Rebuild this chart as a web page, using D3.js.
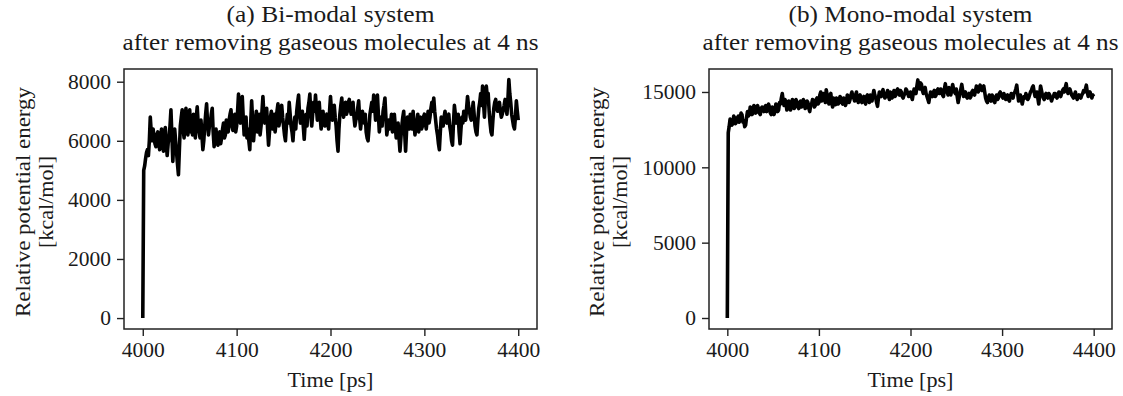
<!DOCTYPE html>
<html><head><meta charset="utf-8">
<script src="https://cdn.jsdelivr.net/npm/d3@7"></script>
<style>
html,body{margin:0;padding:0;background:#fff;}
svg text{font-family:"Liberation Serif","Times New Roman",serif !important;fill:#1a1a1a;}
</style></head>
<body><svg id="c" width="1123" height="396"></svg>
<script>
// time grid (ps), one sample per ps
const times = d3.range(4000, 4401, 1);

// (a) Bi-modal system, relative potential energy [kcal/mol]
const energyBimodal = [
0,5000,5150,5400,5600,5700,5500,6000,6800,6300,6000,6400,6150,5900,5800,6200,6300,5900,5700,6100,
6400,6000,5650,6200,6450,5900,5500,5900,6100,6500,7050,6200,5300,5900,6400,6000,5600,5200,4850,5700,
6500,6800,7050,6400,6100,6700,7100,6500,6200,6600,7050,6300,6600,6200,6900,6500,6100,6800,7150,6600,
6300,6100,6700,6200,5700,6000,6500,6900,7250,6600,6200,6500,6600,6900,7100,6300,5800,6200,6400,6000,
5850,6200,6300,5900,6100,6400,6600,6100,6200,6700,6500,6300,6700,6900,7050,6500,6350,6700,6900,6300,
6500,7000,7580,6900,6600,7200,7500,6800,6200,6500,6800,6100,6400,6000,5700,6600,7350,6700,6000,6400,
6700,7000,6300,6600,6900,6200,6500,7000,7500,6900,6600,6800,7100,6400,5850,6300,6800,7000,6400,6700,
6900,6300,6600,7000,7250,6500,6700,7100,7200,6800,6500,6200,6000,6500,6900,6600,7300,6900,6500,6300,
6000,6500,6800,6400,7000,7300,7550,6900,6600,6900,7000,6500,6050,6600,6900,6500,7100,7300,7580,6900,
6500,6900,7300,7000,7550,7100,6700,7000,7300,6800,6400,6700,7000,6600,6500,6800,6900,6600,6400,7000,
7500,7000,6700,6900,7200,6800,6500,6000,5650,6400,6900,7200,7450,7000,6800,7100,7300,6900,7000,7300,
7400,7100,6900,7100,7300,6800,6500,6700,6800,7100,7350,6800,6400,6700,7000,6700,6600,6900,6300,6100,
6000,6400,6900,7100,7300,7000,7550,7200,6700,7100,7550,6900,6300,6600,6800,6500,7000,7200,7450,6800,
6200,6500,6700,6400,6600,6900,6300,6600,6900,6500,6100,6400,6600,6100,5650,6100,6500,6800,7000,6300,
5650,6300,6800,6500,6400,6900,6700,6400,7000,6600,6200,6500,6600,6900,6300,6600,6800,6400,6500,6800,
6900,6600,6400,6700,7000,6600,6800,7100,7300,7000,7450,7000,6700,6400,6200,5900,5700,6300,6800,6600,
6500,6800,7000,6700,6600,6800,6900,6500,6300,6000,5850,6600,7200,6900,6600,6700,6900,6300,5900,6400,
6800,6600,7000,6900,6700,7100,7500,7200,7000,6800,6700,7000,7300,6900,6500,6300,6200,6700,7100,7300,
7600,7200,7850,7300,6800,7400,7850,7500,7600,7000,6600,6300,6200,6700,7100,7300,7400,7100,7000,7200,
7300,7000,6800,6900,7050,7200,7400,7100,6900,7400,8070,7600,7300,6900,6700,6500,6400,6800,7350,7000,
6700];

// (b) Mono-modal system, relative potential energy [kcal/mol]
const energyMonomodal = [
0,12300,12700,13200,13100,12800,12900,13400,13300,12900,13000,13300,13400,13000,13200,13600,13500,13000,13100,12700,
12800,13300,13700,13400,13500,14000,13900,13500,13600,14100,14000,13600,13700,14100,13900,13600,13500,13900,14000,13800,
13700,14000,14100,13700,13800,14200,14000,13600,13500,14000,13900,13500,13700,14200,14100,13700,13800,14300,14200,14600,
14900,14400,14100,14500,14300,13800,13900,14400,14300,13800,14000,14500,14400,13900,14100,14500,14300,14000,13900,14300,
14400,14000,14100,14500,14300,13900,14000,14400,14300,13900,13700,14100,14200,14500,14400,14000,14100,14500,14600,14200,
14300,14800,15000,14400,14500,14900,14700,14300,15150,14800,14500,14200,14800,14900,14300,14000,14600,14400,14150,14600,
14500,14200,14300,14700,14600,14300,14200,14600,14500,14100,14300,14800,14700,14300,14500,14800,15000,14700,14600,14400,
14800,15000,14500,14300,14700,14800,14400,14300,14600,14700,14400,14200,14700,14800,14500,14300,14800,14700,14400,14800,
15100,14800,14600,14300,14050,14600,15000,14800,14700,15000,15150,14800,14600,14700,14900,15100,14700,14500,15000,14800,
14600,14900,15100,14700,14800,15100,15200,14900,14800,15100,15000,14700,14600,14800,14900,15200,15100,14900,14700,14800,
15000,14700,14500,14900,15200,15000,14900,15400,15800,15400,15200,15600,15500,15100,14900,15200,15300,14900,14700,14500,
14300,14700,15000,14800,14700,15000,15100,14700,14800,15100,15200,14900,14900,15200,15100,14800,14700,15200,15550,15200,
15000,14800,15300,15100,14800,15100,15500,15200,15000,14900,15200,14700,14300,14600,14900,15200,15500,15100,14700,14900,
15000,14700,14600,14800,14900,14600,14700,15000,15100,14900,14800,15100,15400,15200,15000,15300,15450,15200,15100,15300,
15400,15000,14600,14400,14300,14600,14800,14500,14400,14800,14700,14400,14300,14600,14800,14500,14600,14900,15000,14800,
14700,14600,14900,14700,14500,14700,14800,14500,14400,14700,14900,14700,14600,14900,15000,15200,15450,14900,14400,14600,
14800,14500,14200,14500,14700,14600,14900,14700,14500,14600,14800,15000,15100,15300,15400,15000,14700,14800,15000,14600,
14200,14800,15400,15100,14800,14600,14500,14800,14900,14700,14600,14900,14800,14600,14400,14600,14700,14900,14900,14700,
14600,14800,15000,14800,14700,14900,15100,15200,15000,15300,15550,15100,14900,15100,15200,15000,14800,14700,14600,14800,
15000,14700,14500,14700,14800,14700,14600,14800,14900,15100,15000,15200,15450,15000,14700,14900,15000,14800,14600,14800,
14700];

const xTicks = [4000, 4100, 4200, 4300, 4400];
const yTicksA = [0, 2000, 4000, 6000, 8000];
const yTicksB = [0, 5000, 10000, 15000];
const titlesA = ["(a) Bi-modal system", "after removing gaseous molecules at 4 ns"];
const titlesB = ["(b) Mono-modal system", "after removing gaseous molecules at 4 ns"];
const yLabelLines = ["Relative potential energy", "[kcal/mol]"];
const xLabel = "Time [ps]";

const FONT = '"Liberation Serif", "Times New Roman", serif';
const svg = d3.select("#c");

function panel(cfg){
  const {left,right,top,bottom,yDomain,values,yTicks,titles,titleW,yLabX} = cfg;
  const x = d3.scaleLinear().domain([3980,4420]).range([left,right]);
  const y = d3.scaleLinear().domain(yDomain).range([bottom,top]);
  const g = svg.append("g");

  const line = d3.line().x((d,i)=>x(times[i])).y(d=>y(d));
  g.append("path").datum(values).attr("d",line)
    .attr("fill","none").attr("stroke","#000").attr("stroke-width",3.6)
    .attr("stroke-linejoin","round");

  const xa = g.append("g").attr("transform",`translate(0,${bottom})`)
    .call(d3.axisBottom(x).tickValues(xTicks).tickFormat(d3.format("d")).tickSizeInner(7).tickSizeOuter(0).tickPadding(6));
  const ya = g.append("g").attr("transform",`translate(${left},0)`)
    .call(d3.axisLeft(y).tickValues(yTicks).tickFormat(d3.format("d")).tickSizeInner(7).tickSizeOuter(0).tickPadding(6));
  [xa,ya].forEach(a=>{
    a.attr("font-family",null).attr("font-size",null);
    a.select(".domain").remove();
    a.selectAll(".tick line").attr("stroke","#222").attr("stroke-width",1.4);
    a.selectAll(".tick text").style("font-family",FONT).style("font-size","21.5px").attr("fill","#1a1a1a");
  });
  g.append("rect").attr("x",left).attr("y",top).attr("width",right-left).attr("height",bottom-top)
    .attr("fill","none").attr("stroke","#222").attr("stroke-width",1.5);

  const txt = (sel,size)=>sel.style("font-family",FONT).style("font-size",size+"px");
  const cx = (left+right)/2;
  txt(g.append("text").attr("x",cx).attr("y",22).attr("text-anchor","middle"),23.4)
    .attr("textLength",titleW[0]).attr("lengthAdjust","spacingAndGlyphs").text(titles[0]);
  txt(g.append("text").attr("x",cx).attr("y",50).attr("text-anchor","middle"),23.4)
    .attr("textLength",titleW[1]).attr("lengthAdjust","spacingAndGlyphs").text(titles[1]);

  txt(g.append("text").attr("x",cx).attr("y",387).attr("text-anchor","middle"),21)
    .attr("textLength",86).attr("lengthAdjust","spacingAndGlyphs").text(xLabel);

  const cy = (top+bottom)/2 + 3;
  txt(g.append("text").attr("transform",`translate(${yLabX[0]},${cy}) rotate(-90)`).attr("text-anchor","middle"),21)
    .attr("textLength",230).attr("lengthAdjust","spacingAndGlyphs").text(yLabelLines[0]);
  txt(g.append("text").attr("transform",`translate(${yLabX[1]},${cy}) rotate(-90)`).attr("text-anchor","middle"),21)
    .attr("textLength",92).attr("lengthAdjust","spacingAndGlyphs").text(yLabelLines[1]);
}

panel({left:124,right:537,top:69,bottom:329,yDomain:[-370,8430],values:energyBimodal,yTicks:yTicksA,
  titles:titlesA,titleW:[208,416],yLabX:[30,53]});
panel({left:709,right:1112,top:69,bottom:329,yDomain:[-730,16525],values:energyMonomodal,yTicks:yTicksB,
  titles:titlesB,titleW:[244,416],yLabX:[604,627]});
</script></body></html>
